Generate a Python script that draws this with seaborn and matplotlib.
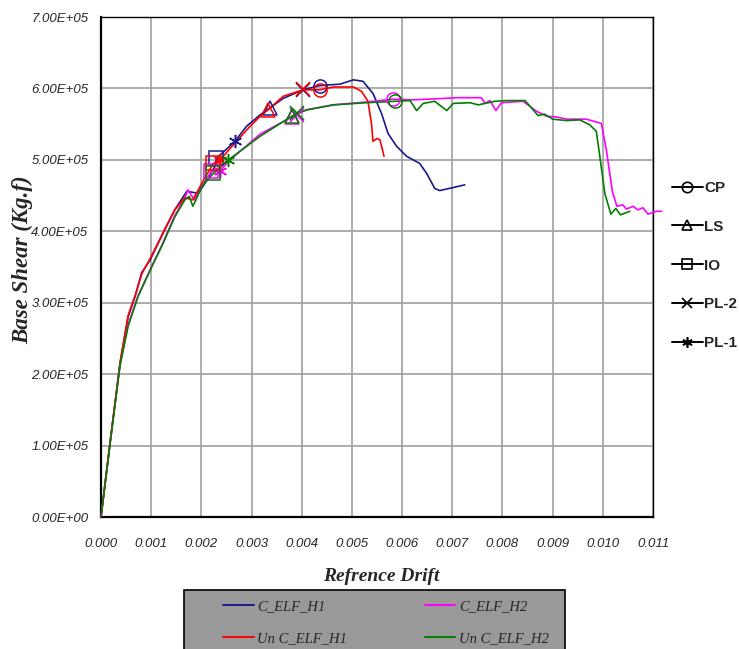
import matplotlib
matplotlib.use('Agg')
import matplotlib.pyplot as plt
import seaborn as sns
import pandas as pd
from matplotlib.lines import Line2D
from matplotlib.patches import Rectangle
from matplotlib.ticker import FormatStrFormatter, MultipleLocator

# pushover curves, drift vs base shear (shear in 1e5 kg.f)
c_h1_drift = [0, 0.00018, 0.00038, 0.00054, 0.00068, 0.00081, 0.00098, 0.00111, 0.00127, 0.00147,
              0.00171, 0.00187, 0.00194, 0.00207, 0.00227, 0.0023, 0.00267, 0.0029, 0.00317, 0.00337,
              0.00363, 0.00402, 0.00436, 0.00476, 0.00503, 0.00522, 0.00542, 0.00559, 0.00572, 0.00589,
              0.00609, 0.00635, 0.00649, 0.00665, 0.00675, 0.00725]
c_h1_shear = [0, 1.04, 2.16, 2.80, 3.09, 3.42, 3.60, 3.79, 4.02, 4.30,
              4.56, 4.54, 4.53, 4.67, 4.91, 5.02, 5.26, 5.47, 5.63, 5.73,
              5.86, 5.98, 6.04, 6.06, 6.12, 6.10, 5.93, 5.65, 5.37, 5.19,
              5.05, 4.95, 4.81, 4.60, 4.57, 4.65]

un_h1_drift = [0, 0.00018, 0.00038, 0.00054, 0.00068, 0.00081, 0.00098, 0.00111, 0.00127, 0.00147,
               0.00167, 0.00183, 0.00207, 0.00224, 0.00237, 0.00297, 0.00323, 0.00333, 0.00363, 0.00403,
               0.00436, 0.00463, 0.00503, 0.00519, 0.00532, 0.00539, 0.00542, 0.0055, 0.00556, 0.00564]
un_h1_shear = [0, 1.04, 2.16, 2.82, 3.10, 3.40, 3.62, 3.80, 4.03, 4.30,
               4.47, 4.44, 4.75, 4.95, 5.00, 5.47, 5.65, 5.70, 5.89, 5.98,
               5.98, 6.02, 6.02, 5.96, 5.82, 5.51, 5.26, 5.30, 5.28, 5.05]

c_h2_drift = [0, 0.00018, 0.00038, 0.00054, 0.00074, 0.00101, 0.00121, 0.00147, 0.00167, 0.00173,
              0.00186, 0.002, 0.0022, 0.00237, 0.00254, 0.00317, 0.0038, 0.0039, 0.0041, 0.00463,
              0.00529, 0.00582, 0.00619, 0.00655, 0.00709, 0.00758, 0.00765, 0.00775, 0.00787, 0.00798,
              0.00841, 0.00868, 0.00888, 0.00908, 0.00928, 0.00967, 0.00997, 0.01007, 0.01019, 0.01028,
              0.0104, 0.01047, 0.0106, 0.0107, 0.0108, 0.0109, 0.01107, 0.01117]
c_h2_shear = [0, 1.03, 2.14, 2.69, 3.10, 3.51, 3.80, 4.22, 4.46, 4.58,
              4.44, 4.62, 4.84, 4.84, 4.98, 5.36, 5.60, 5.64, 5.70, 5.77,
              5.81, 5.85, 5.84, 5.85, 5.87, 5.87, 5.79, 5.83, 5.69, 5.80,
              5.82, 5.68, 5.61, 5.60, 5.57, 5.57, 5.51, 5.14, 4.56, 4.35,
              4.37, 4.31, 4.35, 4.30, 4.33, 4.24, 4.28, 4.28]

un_h2_drift = [0, 0.00018, 0.00038, 0.00054, 0.00074, 0.00101, 0.00121, 0.00147, 0.00167, 0.00176,
               0.00183, 0.0019, 0.002, 0.00224, 0.00254, 0.00317, 0.0038, 0.0039, 0.0041, 0.00463,
               0.00529, 0.00586, 0.00616, 0.00629, 0.00642, 0.00665, 0.00689, 0.00702, 0.00735, 0.00752,
               0.00785, 0.00808, 0.00845, 0.00871, 0.00884, 0.009, 0.00928, 0.00954, 0.00974, 0.00987,
               0.00994, 0.01004, 0.01016, 0.01026, 0.01035, 0.01054]
un_h2_shear = [0, 1.02, 2.12, 2.67, 3.09, 3.50, 3.79, 4.20, 4.44, 4.49,
               4.35, 4.45, 4.62, 4.81, 5.00, 5.33, 5.61, 5.65, 5.70, 5.77,
               5.80, 5.82, 5.83, 5.69, 5.79, 5.82, 5.69, 5.79, 5.80, 5.77,
               5.82, 5.83, 5.83, 5.62, 5.64, 5.57, 5.55, 5.56, 5.49, 5.40,
               5.05, 4.53, 4.24, 4.32, 4.23, 4.28]

# performance points, order IO, PL-1, LS, PL-2, CP
perf_levels = ['IO', 'PL-1', 'LS', 'PL-2', 'CP']
c_h1_perf_drift = [0.0023, 0.00267, 0.00337, 0.00402, 0.00436]
c_h1_perf_shear = [5.02, 5.26, 5.73, 5.98, 6.04]
un_h1_perf_drift = [0.00224, 0.00237, 0.00333, 0.00403, 0.00436]
un_h1_perf_shear = [4.95, 5.00, 5.70, 5.99, 5.98]
c_h2_perf_drift = [0.0022, 0.00237, 0.0038, 0.0039, 0.00582]
c_h2_perf_shear = [4.84, 4.84, 5.60, 5.63, 5.85]
un_h2_perf_drift = [0.00224, 0.00254, 0.0038, 0.0039, 0.00586]
un_h2_perf_shear = [4.81, 5.00, 5.61, 5.65, 5.82]

series_names = ['C_ELF_H1', 'C_ELF_H2', 'Un C_ELF_H1', 'Un C_ELF_H2']
series_colors = ['#1a1a8c', '#ff00ff', '#ff0000', '#008000']

curves = {
    'C_ELF_H1': (c_h1_drift, c_h1_shear, c_h1_perf_drift, c_h1_perf_shear),
    'C_ELF_H2': (c_h2_drift, c_h2_shear, c_h2_perf_drift, c_h2_perf_shear),
    'Un C_ELF_H1': (un_h1_drift, un_h1_shear, un_h1_perf_drift, un_h1_perf_shear),
    'Un C_ELF_H2': (un_h2_drift, un_h2_shear, un_h2_perf_drift, un_h2_perf_shear),
}
level_markers = {'IO': 's', 'PL-1': (6, 2, 0), 'LS': '^', 'PL-2': 'x', 'CP': 'o'}

sns.set_style('white')
plt.rcParams['font.family'] = ['Liberation Sans', 'DejaVu Sans']

fig = plt.figure(figsize=(7.39, 6.49), dpi=100)
ax = fig.add_axes([101/739, 1-517/649, 552/739, 500/649])

for name, color in zip(series_names, series_colors):
    dx, dy, px, py = curves[name]
    df = pd.DataFrame({'drift': dx, 'shear': [v*1e5 for v in dy]})
    sns.lineplot(data=df, x='drift', y='shear', sort=False, estimator=None, color=color,
                 lw=1.2, ax=ax, clip_on=(name != 'C_ELF_H2'), zorder=3)
    for lvl, xx, yy in zip(perf_levels, px, py):
        ax.plot(xx, yy*1e5, linestyle='none', marker=level_markers[lvl], ms=9.5, mfc='none',
                mec=color, mew=1.1, zorder=4)

ax.set_xlim(0, 0.011)
ax.set_ylim(0, 7e5)
ax.xaxis.set_major_locator(MultipleLocator(0.001))
ax.yaxis.set_major_locator(MultipleLocator(1e5))
ax.xaxis.set_major_formatter(FormatStrFormatter('%.3f'))
ax.yaxis.set_major_formatter(FormatStrFormatter('%.2E'))
ax.grid(True, color='#a0a0a0', lw=1.2)
ax.set_axisbelow(True)
ax.tick_params(axis='both', direction='out', length=4, width=1, color='black', labelsize=9.5)
ax.tick_params(axis='y', pad=5)
ax.tick_params(axis='x', pad=11)
for lab in ax.get_xticklabels() + ax.get_yticklabels():
    lab.set_fontstyle('italic')
for side in ['left', 'bottom']:
    ax.spines[side].set_linewidth(1.6)
    ax.spines[side].set_color('black')
for side in ['right', 'top']:
    ax.spines[side].set_linewidth(1.0)
    ax.spines[side].set_color('black')

ax.set_ylabel('Base Shear (Kg.f)', family='Liberation Serif', fontsize=16.5,
              fontweight='bold', fontstyle='italic')
ax.yaxis.set_label_coords(-0.123, 0.514)
ax.set_xlabel('Refrence Drift', family='Liberation Serif', fontsize=14,
              fontweight='bold', fontstyle='italic')
ax.xaxis.set_label_coords(0.507, -0.102)

# performance level key at right
perf_handles = []
perf_labels = ['CP', 'LS', 'IO', 'PL-2', 'PL-1']
for lvl in perf_labels:
    perf_handles.append(Line2D([], [], color='black', lw=1.4, marker=level_markers[lvl],
                               ms=7.5, mfc='none', mec='black', mew=1.2))
fig.legend(perf_handles, perf_labels, loc='upper left', bbox_to_anchor=(672/739, 1-181/649),
           frameon=False, borderpad=0, borderaxespad=0, handlelength=2.0, handletextpad=0.1,
           labelspacing=1.62, prop={'family': 'Liberation Sans', 'weight': 'bold', 'size': 11})

# series key in grey box, rows: H1 pair then Un pair
fig.patches.append(Rectangle((184/739, -0.05), (565-184)/739, 1-590/649+0.05,
                             transform=fig.transFigure, facecolor='#999999',
                             edgecolor='black', lw=1.2, zorder=0))
key_order = ['C_ELF_H1', 'Un C_ELF_H1', 'C_ELF_H2', 'Un C_ELF_H2']
key_colors = dict(zip(series_names, series_colors))
line_handles = [Line2D([], [], color=key_colors[n], lw=1.4) for n in key_order]
fig.legend(line_handles, key_order, loc='upper left', ncol=2,
           bbox_to_anchor=(223/739, 1-600/649), frameon=False, borderpad=0, borderaxespad=0,
           handlelength=2.1, handletextpad=0.25, columnspacing=5.3, labelspacing=1.3,
           prop={'family': 'Liberation Serif', 'style': 'italic', 'size': 10.5})

fig.savefig('out.png', dpi=100)
